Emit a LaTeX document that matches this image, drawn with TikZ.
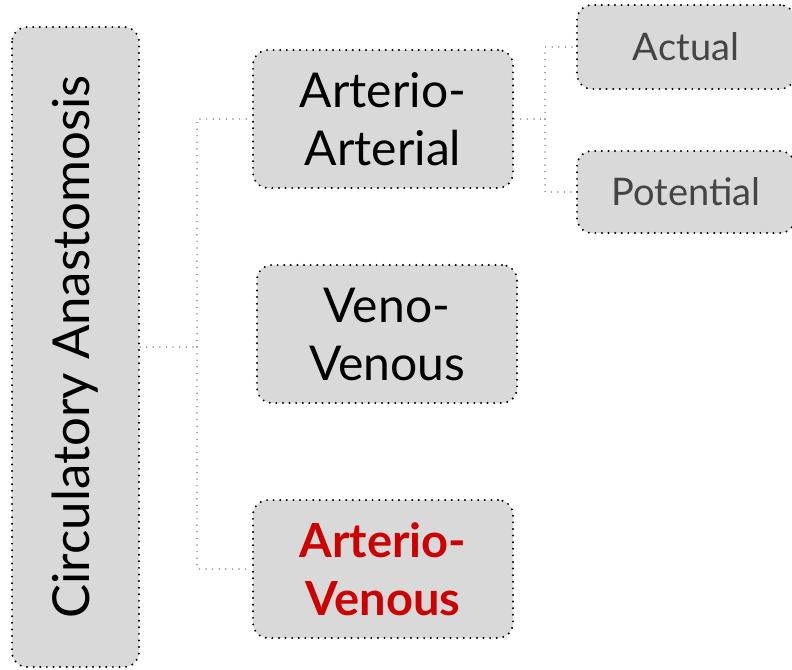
\documentclass[tikz,border=0pt]{standalone}
\usepackage{fontspec}
\setmainfont{Lato}
\usepackage{xcolor}
\definecolor{boxgrey}{HTML}{D9D9D9}
\definecolor{avred}{HTML}{CC0000}
\definecolor{subtext}{HTML}{444444}

\tikzset{
  box/.style={draw=black, fill=boxgrey, rounded corners=15pt, line width=2.2pt,
    dash pattern=on 0pt off 6.6pt, line cap=round, align=center, inner sep=0pt},
  link/.style={draw=gray!90, line width=1.7pt, dash pattern=on 0pt off 6.6pt, line cap=round}
}

\begin{document}
\begin{tikzpicture}[x=1pt, y=-1pt]
  \useasboundingbox (0,0) rectangle (792,669);

  \node[box, rotate=90, minimum width=640pt, minimum height=127pt,
        font=\fontsize{51}{56}\selectfont] (root) at (75.5, 347) {Circulatory Anastomosis};

  \node[box, minimum width=260pt, minimum height=138pt,
        font=\fontsize{48}{58}\selectfont] (aa) at (383, 119) {Arterio-\\Arterial};
  \node[box, minimum width=260pt, minimum height=138pt,
        font=\fontsize{48}{58}\selectfont] (vv) at (387, 334) {Veno-\\Venous};
  \node[box, minimum width=260pt, minimum height=138pt, text=avred,
        font=\fontsize{47}{58}\bfseries\selectfont] (av) at (383, 569) {Arterio-\\Venous};

  \node[box, minimum width=218pt, minimum height=84pt, text=subtext,
        font=\fontsize{38}{44}\selectfont] (act) at (686, 47) {Actual};
  \node[box, minimum width=218pt, minimum height=82pt, text=subtext,
        font=\fontsize{38}{44}\selectfont] (pot) at (686, 192) {Potential};

  \coordinate (j1) at (197, 347);
  \coordinate (j2) at (545, 119);

  % root to the three kinds
  \draw[link] (root.south) -- (j1);
  \draw[link] (j1) |- (aa.west);
  \draw[link] (j1) |- (av.west);

  % arterio-arterial split
  \draw[link] (aa.east) -- (j2);
  \draw[link] (j2) |- (act.west);
  \draw[link] (j2) |- (pot.west);

\end{tikzpicture}
\end{document}
